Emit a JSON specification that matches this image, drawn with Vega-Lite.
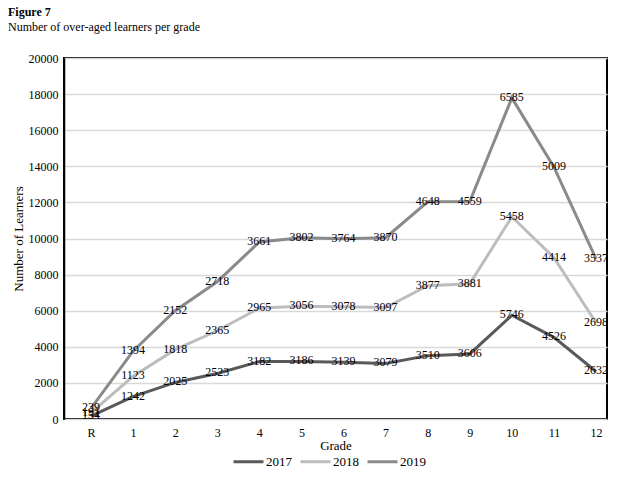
{
  "$schema": "https://vega.github.io/schema/vega-lite/v6.json",
  "width": 543,
  "height": 361,
  "autosize": {"type": "none"},
  "padding": {"left": 64, "top": 58, "right": 26, "bottom": 59},
  "background": "white",
  "title": {
    "text": "Figure 7",
    "subtitle": "Number of over-aged learners per grade",
    "anchor": "start",
    "frame": "group",
    "dx": -56,
    "offset": 18,
    "font": "Liberation Serif",
    "fontSize": 12,
    "fontWeight": "bold",
    "color": "black",
    "subtitleFont": "Liberation Serif",
    "subtitleFontSize": 12,
    "subtitleColor": "black",
    "subtitlePadding": 3
  },
  "data": {
    "values": [
      {"grade": "R", "g": 0, "year": "2017", "learners": 154},
      {"grade": "R", "g": 0, "year": "2018", "learners": 191},
      {"grade": "R", "g": 0, "year": "2019", "learners": 239},
      {"grade": "1", "g": 1, "year": "2017", "learners": 1242},
      {"grade": "1", "g": 1, "year": "2018", "learners": 1123},
      {"grade": "1", "g": 1, "year": "2019", "learners": 1394},
      {"grade": "2", "g": 2, "year": "2017", "learners": 2025},
      {"grade": "2", "g": 2, "year": "2018", "learners": 1818},
      {"grade": "2", "g": 2, "year": "2019", "learners": 2152},
      {"grade": "3", "g": 3, "year": "2017", "learners": 2523},
      {"grade": "3", "g": 3, "year": "2018", "learners": 2365},
      {"grade": "3", "g": 3, "year": "2019", "learners": 2718},
      {"grade": "4", "g": 4, "year": "2017", "learners": 3182},
      {"grade": "4", "g": 4, "year": "2018", "learners": 2965},
      {"grade": "4", "g": 4, "year": "2019", "learners": 3661},
      {"grade": "5", "g": 5, "year": "2017", "learners": 3186},
      {"grade": "5", "g": 5, "year": "2018", "learners": 3056},
      {"grade": "5", "g": 5, "year": "2019", "learners": 3802},
      {"grade": "6", "g": 6, "year": "2017", "learners": 3139},
      {"grade": "6", "g": 6, "year": "2018", "learners": 3078},
      {"grade": "6", "g": 6, "year": "2019", "learners": 3764},
      {"grade": "7", "g": 7, "year": "2017", "learners": 3079},
      {"grade": "7", "g": 7, "year": "2018", "learners": 3097},
      {"grade": "7", "g": 7, "year": "2019", "learners": 3870},
      {"grade": "8", "g": 8, "year": "2017", "learners": 3510},
      {"grade": "8", "g": 8, "year": "2018", "learners": 3877},
      {"grade": "8", "g": 8, "year": "2019", "learners": 4648},
      {"grade": "9", "g": 9, "year": "2017", "learners": 3606},
      {"grade": "9", "g": 9, "year": "2018", "learners": 3881},
      {"grade": "9", "g": 9, "year": "2019", "learners": 4559},
      {"grade": "10", "g": 10, "year": "2017", "learners": 5746},
      {"grade": "10", "g": 10, "year": "2018", "learners": 5458},
      {"grade": "10", "g": 10, "year": "2019", "learners": 6585},
      {"grade": "11", "g": 11, "year": "2017", "learners": 4526},
      {"grade": "11", "g": 11, "year": "2018", "learners": 4414},
      {"grade": "11", "g": 11, "year": "2019", "learners": 5009},
      {"grade": "12", "g": 12, "year": "2017", "learners": 2632},
      {"grade": "12", "g": 12, "year": "2018", "learners": 2698},
      {"grade": "12", "g": 12, "year": "2019", "learners": 3537}
    ]
  },
  "transform": [
    {"stack": "learners", "groupby": ["g"], "sort": [{"field": "year", "order": "ascending"}], "as": ["y0", "y1"]}
  ],
  "encoding": {
    "x": {
      "field": "g",
      "type": "quantitative",
      "scale": {"domain": [-0.64, 12.26], "nice": false, "zero": false},
      "axis": {
        "title": "Grade",
        "values": [0, 1, 2, 3, 4, 5, 6, 7, 8, 9, 10, 11, 12],
        "labelExpr": "datum.value == 0 ? 'R' : datum.label",
        "labelOverlap": false,
        "grid": false,
        "ticks": false,
        "domain": false,
        "labelPadding": 8,
        "titlePadding": 1,
        "labelFont": "Liberation Serif",
        "labelFontSize": 12,
        "labelColor": "black",
        "titleFont": "Liberation Serif",
        "titleFontSize": 13,
        "titleFontWeight": "normal",
        "titleColor": "black"
      }
    },
    "y": {
      "field": "y1",
      "type": "quantitative",
      "scale": {"domain": [0, 20000], "nice": false},
      "axis": {
        "title": "Number of Learners",
        "values": [0, 2000, 4000, 6000, 8000, 10000, 12000, 14000, 16000, 18000, 20000],
        "format": "d",
        "labelOverlap": false,
        "grid": true,
        "gridColor": "#d9d9d9",
        "gridWidth": 1.5,
        "ticks": false,
        "domain": true,
        "domainColor": "black",
        "domainWidth": 1.5,
        "labelPadding": 6,
        "titlePadding": 3,
        "labelFont": "Liberation Serif",
        "labelFontSize": 12,
        "labelColor": "black",
        "titleFont": "Liberation Serif",
        "titleFontSize": 13,
        "titleFontWeight": "normal",
        "titleColor": "black"
      }
    }
  },
  "layer": [
    {
      "mark": {"type": "line", "strokeWidth": 3},
      "encoding": {
        "color": {
          "field": "year",
          "type": "nominal",
          "scale": {"domain": ["2017", "2018", "2019"], "range": ["#595959", "#bdbdbd", "#8a8a8a"]},
          "legend": {
            "title": null,
            "orient": "none",
            "legendX": 168,
            "legendY": 387,
            "direction": "horizontal",
            "symbolType": "stroke",
            "symbolStrokeWidth": 3,
            "symbolSize": 900,
            "labelFont": "Liberation Serif",
            "labelFontSize": 13,
            "labelColor": "black",
            "columnPadding": 2,
            "labelOffset": 1
          }
        },
        "order": {"field": "g", "type": "quantitative"}
      }
    },
    {
      "mark": {"type": "text", "font": "Liberation Serif", "fontSize": 12, "color": "black", "baseline": "middle", "dy": -1},
      "encoding": {
        "text": {"field": "learners", "type": "quantitative"}
      }
    }
  ],
  "config": {
    "view": {"stroke": "black", "strokeWidth": 2}
  }
}
